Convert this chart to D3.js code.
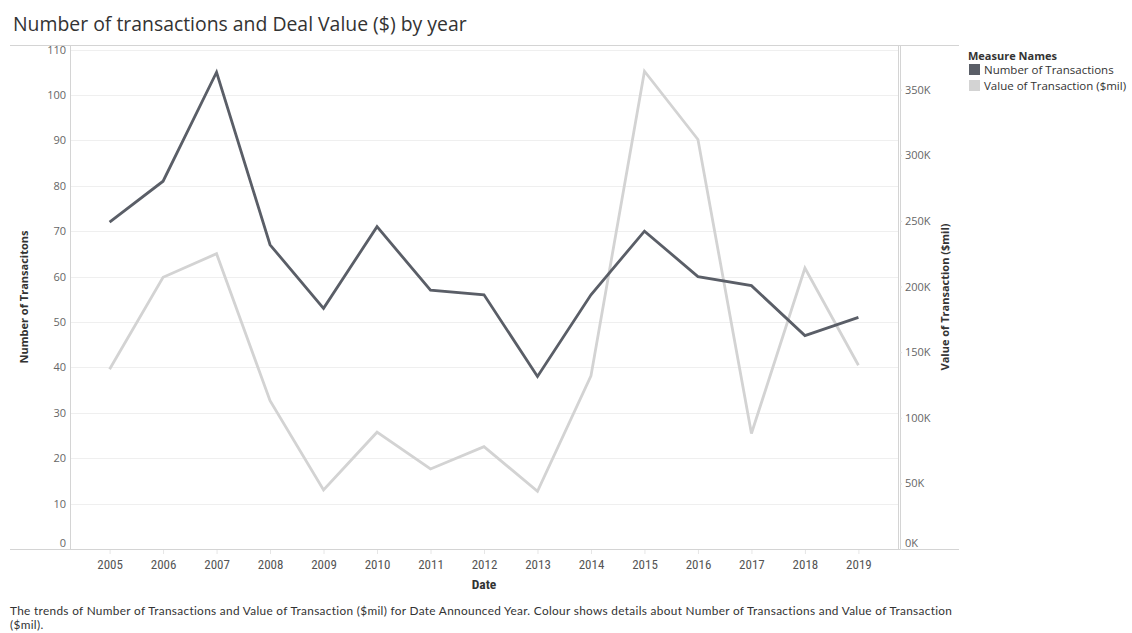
<!DOCTYPE html>
<html>
<head>
<meta charset="utf-8">
<script src="https://cdn.jsdelivr.net/npm/d3@7"></script>
<style>
  html, body { margin: 0; padding: 0; background: #fff; }
  svg { display: block; font-family: "Open Sans", Lato, sans-serif; }
</style>
</head>
<body>
<svg id="chart" width="1132" height="633"></svg>
<script>
// Years announced
const years = ["2005","2006","2007","2008","2009","2010","2011","2012","2013","2014","2015","2016","2017","2018","2019"];
// Number of transactions per year
const transactions = [72, 81, 105, 67, 53, 71, 57, 56, 38, 56, 70, 60, 58, 47, 51];
// Value of transactions ($mil) per year
const dealValue = [137000, 207000, 225000, 113000, 45000, 89000, 61000, 78000, 44000, 132000, 364000, 312000, 88000, 214000, 140000];
// Axis ticks
const leftTicks = [0, 10, 20, 30, 40, 50, 60, 70, 80, 90, 100, 110];
const rightTicks = [0, 50000, 100000, 150000, 200000, 250000, 300000, 350000];

const seriesNames = ["Number of Transactions", "Value of Transaction ($mil)"];
const colors = ["#5a5e67", "#d3d3d3"];

const svg = d3.select("#chart");
const sans = "'Open Sans', Lato, sans-serif";
const narrow = "'Liberation Sans Narrow', 'Roboto Condensed', 'DejaVu Sans Condensed', sans-serif";

const plot = { left: 70, right: 898, top: 45, bottom: 549 };

const x = d3.scalePoint().domain(years).range([plot.left, plot.right]).padding(0.74);
const yL = d3.scaleLinear().domain([0, 111]).range([plot.bottom, plot.top]);
const yR = d3.scaleLinear().domain([0, 384000]).range([plot.bottom, plot.top]);

// Title
svg.append("text").attr("x", 13).attr("y", 31)
  .attr("font-size", 19.4).attr("fill", "#333").attr("font-family", sans)
  .text("Number of transactions and Deal Value ($) by year");

// Gridlines
svg.append("g").selectAll("line").data(leftTicks.filter(d => d > 0)).join("line")
  .attr("x1", plot.left).attr("x2", plot.right)
  .attr("y1", d => Math.round(yL(d)) + 0.5).attr("y2", d => Math.round(yL(d)) + 0.5)
  .attr("stroke", "#efefef").attr("stroke-width", 1);

// Frame lines
const frame = svg.append("g").attr("stroke", "#d4d4d4").attr("stroke-width", 1);
frame.append("line").attr("x1", 10).attr("x2", 959).attr("y1", plot.top + 0.5).attr("y2", plot.top + 0.5);
frame.append("line").attr("x1", 10).attr("x2", 959).attr("y1", plot.bottom + 0.5).attr("y2", plot.bottom + 0.5);
frame.append("line").attr("x1", plot.left + 0.5).attr("x2", plot.left + 0.5).attr("y1", plot.top).attr("y2", plot.bottom);
frame.append("line").attr("x1", plot.right + 0.5).attr("x2", plot.right + 0.5).attr("y1", plot.top).attr("y2", plot.bottom);
frame.append("line").attr("x1", plot.right + 2.5).attr("x2", plot.right + 2.5).attr("y1", plot.top).attr("y2", plot.bottom);

// Left axis
const gL = svg.append("g").attr("transform", `translate(${plot.left - 3},0)`)
  .call(d3.axisLeft(yL).tickValues(leftTicks).tickSize(0).tickPadding(1).tickFormat(d3.format("d")));
gL.select(".domain").remove();
gL.selectAll("text").attr("font-size", 11).attr("fill", "#666").attr("font-family", sans)
  .attr("dy", d => d === 0 ? "-0.2em" : "0.32em");

// Right axis
const gR = svg.append("g").attr("transform", `translate(${plot.right + 2},0)`)
  .call(d3.axisRight(yR).tickValues(rightTicks).tickSize(2).tickPadding(3)
    .tickFormat(d => (d / 1000) + "K"));
gR.select(".domain").remove();
gR.selectAll("line").attr("stroke", "#e0e0e0");
gR.selectAll("text").attr("font-size", 11).attr("fill", "#666").attr("font-family", sans)
  .attr("dy", d => d === 0 ? "-0.2em" : "0.32em");

// Bottom axis
const gB = svg.append("g").attr("transform", `translate(0,${plot.bottom + 1})`)
  .call(d3.axisBottom(x).tickSize(4).tickPadding(6));
gB.select(".domain").remove();
gB.selectAll("line").attr("stroke", "#e6e6e6");
gB.selectAll("text").attr("font-size", 13).attr("fill", "#555").attr("font-family", narrow);

// Axis titles
svg.append("text").attr("transform", `translate(28,${(plot.top + plot.bottom) / 2}) rotate(-90)`)
  .attr("text-anchor", "middle").attr("font-size", 11).attr("font-weight", "bold").attr("fill", "#333")
  .attr("font-family", sans)
  .text("Number of Transacitons");
svg.append("text").attr("transform", `translate(949,${(plot.top + plot.bottom) / 2}) rotate(-90)`)
  .attr("text-anchor", "middle").attr("font-size", 11).attr("font-weight", "bold").attr("fill", "#333")
  .attr("font-family", sans)
  .text("Value of Transaction ($mil)");
svg.append("text").attr("x", (plot.left + plot.right) / 2).attr("y", 589)
  .attr("text-anchor", "middle").attr("font-size", 13.5).attr("font-weight", "bold").attr("fill", "#333")
  .attr("font-family", narrow)
  .text("Date");

// Lines
const lineL = d3.line().x((d, i) => x(years[i])).y(d => yL(d));
const lineR = d3.line().x((d, i) => x(years[i])).y(d => yR(d));

svg.append("path").datum(dealValue).attr("d", lineR)
  .attr("fill", "none").attr("stroke", colors[1]).attr("stroke-width", 2.8).attr("stroke-linejoin", "miter");
svg.append("path").datum(transactions).attr("d", lineL)
  .attr("fill", "none").attr("stroke", colors[0]).attr("stroke-width", 2.8).attr("stroke-linejoin", "miter");

// Legend
const lg = svg.append("g").attr("transform", "translate(968,0)").attr("font-family", sans);
lg.append("text").attr("x", 0).attr("y", 60).attr("font-size", 11).attr("font-weight", "bold").attr("fill", "#333")
  .text("Measure Names");
seriesNames.forEach((name, i) => {
  lg.append("rect").attr("x", 1).attr("y", 64 + i * 16).attr("width", 11).attr("height", 11).attr("fill", colors[i]);
  lg.append("text").attr("x", 16).attr("y", 74 + i * 16).attr("font-size", 11.5).attr("fill", "#333").text(name);
});

// Footer caption
const foot = svg.append("text").attr("font-size", 11.8).attr("fill", "#333")
  .attr("letter-spacing", 0.33)
  .attr("font-family", "Lato, 'Open Sans', sans-serif");
foot.append("tspan").attr("x", 10).attr("y", 615)
  .text("The trends of Number of Transactions and Value of Transaction ($mil) for Date Announced Year.  Colour shows details about Number of Transactions and Value of Transaction");
foot.append("tspan").attr("x", 10).attr("y", 629).text("($mil).");
</script>
</body>
</html>
